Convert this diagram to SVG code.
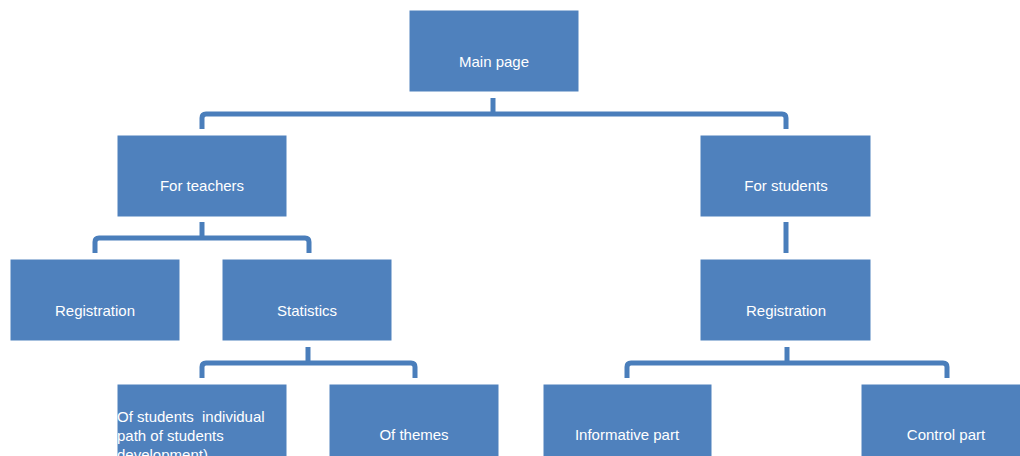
<svg xmlns="http://www.w3.org/2000/svg" width="1020" height="456" viewBox="0 0 1020 456">
<style>
.box{fill:#4F81BD;stroke:#ffffff;stroke-width:1}
.lbl{font-family:"Liberation Sans",Arial,sans-serif;font-size:15px;fill:#ffffff;text-anchor:middle}
.lft{font-family:"Liberation Sans",Arial,sans-serif;font-size:15px;fill:#ffffff}
.con{fill:none;stroke:#4A7EBB;stroke-width:5;stroke-linejoin:round;stroke-linecap:butt}
</style>
<rect width="1020" height="456" fill="#ffffff"/>
<g id="connectors">
<path class="con" d="M493 98 V114"/>
<path class="con" d="M202 129 V118 Q202 114 206 114 H782 Q786 114 786 118 V129"/>
<path class="con" d="M202 222 V238"/>
<path class="con" d="M95 253 V242 Q95 238 99 238 H305 Q309 238 309 242 V253"/>
<path class="con" d="M786 222 V253"/>
<path class="con" d="M308 347 V363"/>
<path class="con" d="M202 378 V367 Q202 363 206 363 H411 Q415 363 415 367 V378"/>
<path class="con" d="M787 347 V363"/>
<path class="con" d="M627 378 V367 Q627 363 631 363 H943 Q947 363 947 367 V378"/>
</g>
<g id="main"><rect class="box" x="409" y="10" width="170" height="82"/><text class="lbl" x="494" y="67">Main page</text></g>
<g id="teachers"><rect class="box" x="117" y="135" width="170" height="82"/><text class="lbl" x="202" y="191">For teachers</text></g>
<g id="students"><rect class="box" x="700" y="135" width="171" height="82"/><text class="lbl" x="786" y="191">For students</text></g>
<g id="reg-left"><rect class="box" x="10" y="259" width="170" height="82"/><text class="lbl" x="95" y="316">Registration</text></g>
<g id="statistics"><rect class="box" x="222" y="259" width="170" height="82"/><text class="lbl" x="307" y="316">Statistics</text></g>
<g id="reg-right"><rect class="box" x="700" y="259" width="171" height="82"/><text class="lbl" x="786" y="316">Registration</text></g>
<g id="of-students"><rect class="box" x="117" y="384" width="170" height="82"/><text class="lft" x="117" y="422" xml:space="preserve">Of students  individual</text><text class="lft" x="117" y="441">path of students</text><text class="lft" x="117" y="460">development)</text></g>
<g id="of-themes"><rect class="box" x="329" y="384" width="170" height="82"/><text class="lbl" x="414" y="440">Of themes</text></g>
<g id="informative"><rect class="box" x="543" y="384" width="169" height="82"/><text class="lbl" x="627" y="440">Informative part</text></g>
<g id="control"><rect class="box" x="861" y="384" width="170" height="82"/><text class="lbl" x="946" y="440">Control part</text></g>
</svg>
